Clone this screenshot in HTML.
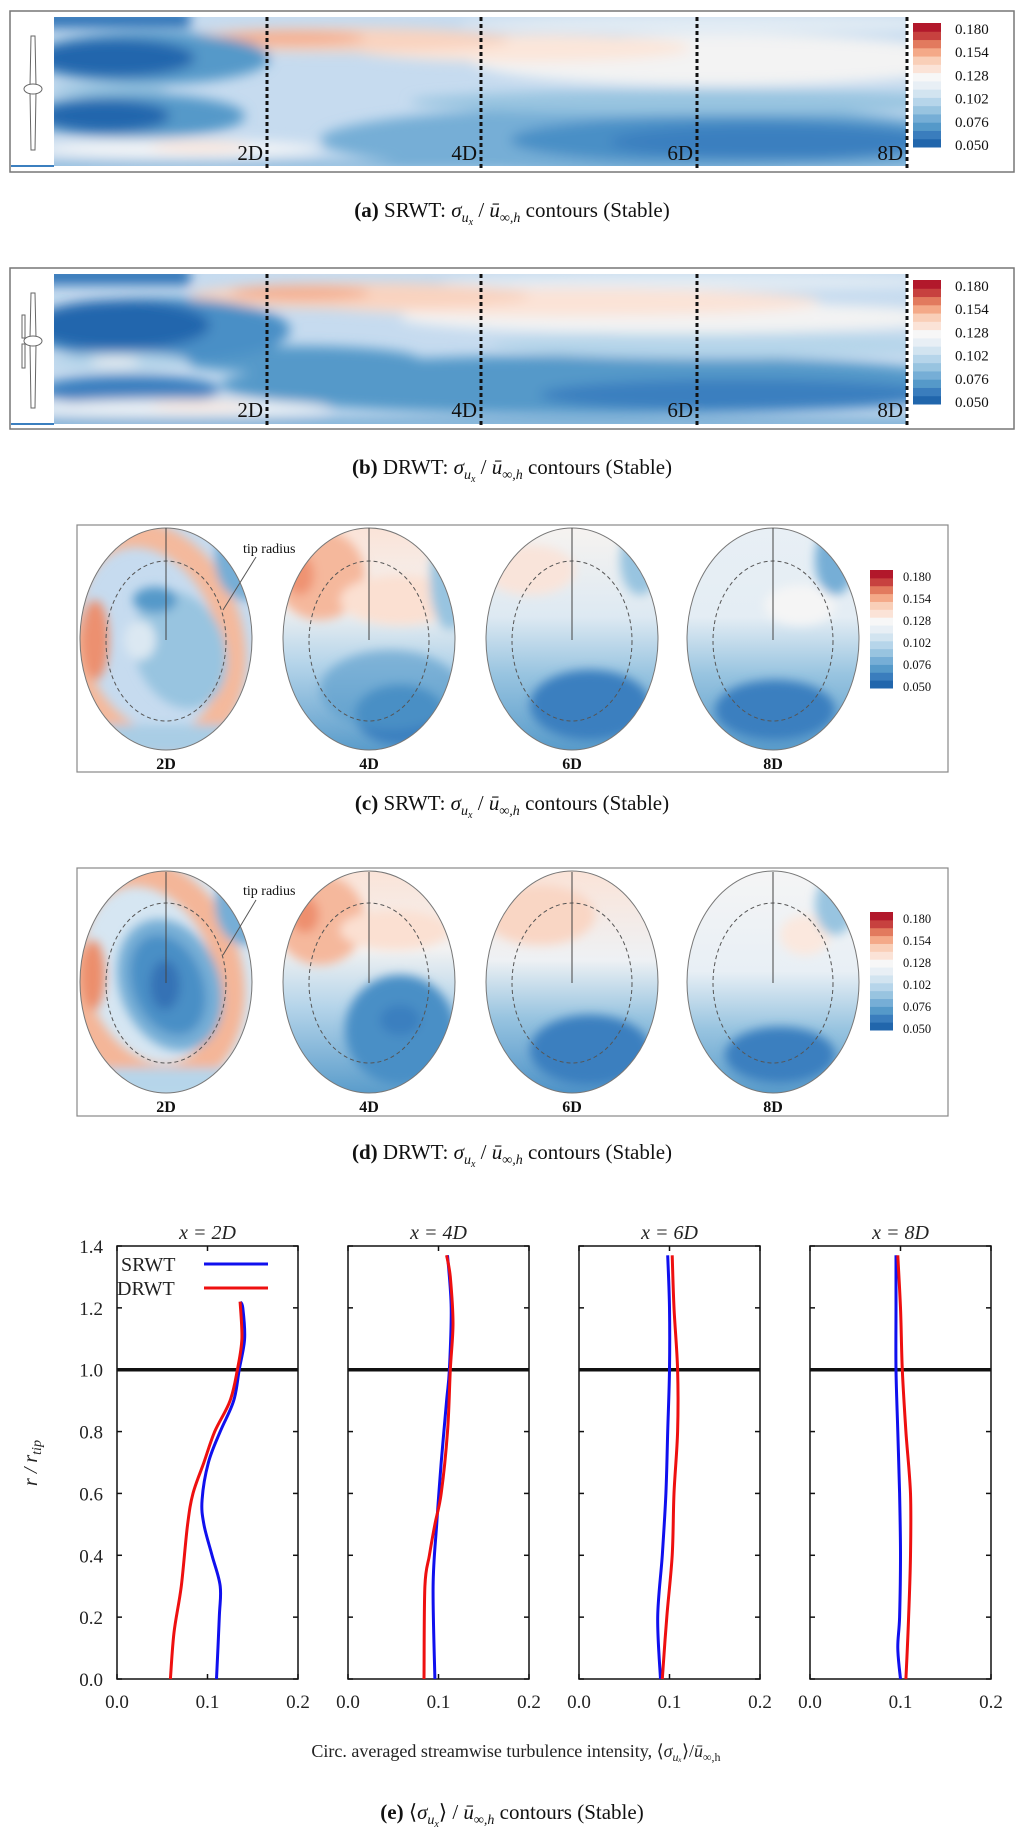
<!DOCTYPE html>
<html><head><meta charset="utf-8"><style>
body{margin:0;background:#fff}
svg{display:block}
.cap{font-family:"Liberation Serif",serif;font-size:21px;fill:#111}
.tk{font-family:"Liberation Serif",serif;font-size:19px;fill:#222}
.cb{font-family:"Liberation Serif",serif;font-size:15px;fill:#111}
.cb2{font-family:"Liberation Serif",serif;font-size:12.5px;fill:#111}
.dl{font-family:"Liberation Serif",serif;font-size:21px;fill:#111}
.el{font-family:"Liberation Serif",serif;font-size:16px;font-weight:bold;fill:#111}
</style></head><body>
<svg id="fig" width="1024" height="1833" viewBox="0 0 1024 1833" xmlns="http://www.w3.org/2000/svg">
<defs>
<filter id="bl" x="-20%" y="-20%" width="140%" height="140%"><feGaussianBlur stdDeviation="6"/></filter>
<filter id="bc" x="-20%" y="-20%" width="140%" height="140%"><feGaussianBlur stdDeviation="5"/></filter>
<clipPath id="clipA"><rect x="54" y="17" width="852" height="149"/></clipPath>
<clipPath id="clipB"><rect x="54" y="274" width="852" height="150"/></clipPath>
<clipPath id="e1"><ellipse cx="166" cy="639" rx="86" ry="111"/></clipPath>
<clipPath id="e2"><ellipse cx="369" cy="639" rx="86" ry="111"/></clipPath>
<clipPath id="e3"><ellipse cx="572" cy="639" rx="86" ry="111"/></clipPath>
<clipPath id="e4"><ellipse cx="773" cy="639" rx="86" ry="111"/></clipPath>
<clipPath id="f1"><ellipse cx="166" cy="982" rx="86" ry="111"/></clipPath>
<clipPath id="f2"><ellipse cx="369" cy="982" rx="86" ry="111"/></clipPath>
<clipPath id="f3"><ellipse cx="572" cy="982" rx="86" ry="111"/></clipPath>
<clipPath id="f4"><ellipse cx="773" cy="982" rx="86" ry="111"/></clipPath>
<linearGradient id="gv4" x1="0" y1="0" x2="0" y2="1"><stop offset="0" stop-color="#fbe3d7"/><stop offset="0.35" stop-color="#f2f2f2"/><stop offset="0.6" stop-color="#b6d5ea"/><stop offset="1" stop-color="#5599c9"/></linearGradient>
<linearGradient id="gv6" x1="0" y1="0" x2="0" y2="1"><stop offset="0" stop-color="#f7f3f0"/><stop offset="0.4" stop-color="#dde9f2"/><stop offset="0.65" stop-color="#98c4e0"/><stop offset="1" stop-color="#5599c9"/></linearGradient>
<linearGradient id="gv8" x1="0" y1="0" x2="0" y2="1"><stop offset="0" stop-color="#e8eff5"/><stop offset="0.4" stop-color="#e4edf4"/><stop offset="0.65" stop-color="#98c4e0"/><stop offset="1" stop-color="#5599c9"/></linearGradient>
<linearGradient id="gd6" x1="0" y1="0" x2="0" y2="1"><stop offset="0" stop-color="#fbe3d7"/><stop offset="0.4" stop-color="#eef1f4"/><stop offset="0.65" stop-color="#98c4e0"/><stop offset="1" stop-color="#4a90c6"/></linearGradient>
<linearGradient id="gd8" x1="0" y1="0" x2="0" y2="1"><stop offset="0" stop-color="#f5f5f5"/><stop offset="0.45" stop-color="#e8eff5"/><stop offset="0.7" stop-color="#98c4e0"/><stop offset="1" stop-color="#5599c9"/></linearGradient>
</defs>

<!-- Panel A -->
<g>
<rect x="10" y="11" width="1004" height="161" fill="#fff" stroke="#777" stroke-width="1.5"/>
<g clip-path="url(#clipA)">
<rect x="54" y="17" width="852" height="149" fill="#c6dbef"/>
<g filter="url(#bl)">
<ellipse cx="650" cy="140" rx="330" ry="34" fill="#76aed6"/>
<ellipse cx="730" cy="140" rx="220" ry="24" fill="#4a8fc6"/>
<ellipse cx="770" cy="142" rx="160" ry="16" fill="#3b7fbf"/>
<ellipse cx="700" cy="102" rx="290" ry="12" fill="#98c4e0"/>
<ellipse cx="720" cy="60" rx="250" ry="26" fill="#f3f3f3"/>
<ellipse cx="720" cy="24" rx="260" ry="9" fill="#e2ecf4"/>
<ellipse cx="520" cy="48" rx="170" ry="14" fill="#fbe6da"/>
<ellipse cx="340" cy="40" rx="170" ry="12" fill="#f9d3bf"/>
<ellipse cx="290" cy="38" rx="75" ry="7" fill="#f4ad8e"/>
<rect x="40" y="10" width="150" height="18" fill="#2f73b7"/>
<ellipse cx="150" cy="58" rx="120" ry="26" fill="#5599c9"/>
<ellipse cx="115" cy="58" rx="80" ry="19" fill="#2466ad"/>
<ellipse cx="110" cy="90" rx="60" ry="6" fill="#98c4e0"/>
<ellipse cx="135" cy="116" rx="110" ry="22" fill="#5599c9"/>
<ellipse cx="105" cy="116" rx="65" ry="16" fill="#2466ad"/>
<ellipse cx="180" cy="149" rx="140" ry="10" fill="#f0f3f6"/>
<ellipse cx="200" cy="147" rx="50" ry="5" fill="#fbe3d7"/>
<rect x="40" y="162" width="880" height="8" fill="#76aed6"/>
</g>
</g>
<g>
<rect x="11" y="17" width="43" height="149" fill="#fff"/>
<path d="M31 36 L35 36 L36 86 L30 86 Z M30 92 L36 92 L35 150 L31 150 Z" fill="#fff" stroke="#666" stroke-width="1"/>
<ellipse cx="33" cy="89" rx="9" ry="5" fill="#fff" stroke="#666" stroke-width="1"/>
<line x1="11" y1="166" x2="54" y2="166" stroke="#3b7fbf" stroke-width="2"/>
</g>
<g stroke="#111" stroke-width="3" stroke-dasharray="4 3">
<line x1="267" y1="17" x2="267" y2="170"/><line x1="481" y1="17" x2="481" y2="170"/><line x1="697" y1="17" x2="697" y2="170"/><line x1="907" y1="17" x2="907" y2="170"/>
</g>
<g class="dl" text-anchor="end">
<text x="263" y="160">2D</text><text x="477" y="160">4D</text><text x="693" y="160">6D</text><text x="903" y="160">8D</text>
</g>
<g id="cbA"></g>
</g>
<text class="cap" x="512" y="217" text-anchor="middle"><tspan font-weight="bold">(a)</tspan> SRWT: <tspan font-style="italic">σ</tspan><tspan font-style="italic" font-size="14" dy="5">u</tspan><tspan font-style="italic" font-size="10" dy="3">x</tspan><tspan dy="-8"> / </tspan><tspan font-style="italic">ū</tspan><tspan font-size="14" dy="5" font-style="italic">∞,h</tspan><tspan dy="-5"> contours (Stable)</tspan></text>

<!-- Panel B -->
<g>
<rect x="10" y="268" width="1004" height="161" fill="#fff" stroke="#777" stroke-width="1.5"/>
<g clip-path="url(#clipB)">
<rect x="54" y="274" width="852" height="150" fill="#c6dbef"/>
<g filter="url(#bl)">
<ellipse cx="600" cy="385" rx="380" ry="30" fill="#5599c9"/>
<ellipse cx="740" cy="395" rx="200" ry="16" fill="#3b7fbf"/>
<ellipse cx="300" cy="360" rx="120" ry="14" fill="#5599c9"/>
<ellipse cx="720" cy="345" rx="230" ry="14" fill="#b6d5ea"/>
<ellipse cx="680" cy="318" rx="280" ry="16" fill="#f3f3f3"/>
<ellipse cx="700" cy="282" rx="260" ry="8" fill="#e2ecf4"/>
<ellipse cx="560" cy="302" rx="260" ry="14" fill="#fbe3d7"/>
<ellipse cx="360" cy="296" rx="170" ry="13" fill="#f9d3bf"/>
<ellipse cx="300" cy="293" rx="70" ry="7" fill="#f4ad8e"/>
<rect x="40" y="267" width="150" height="18" fill="#2f73b7"/>
<ellipse cx="160" cy="330" rx="130" ry="32" fill="#4a8fc6"/>
<ellipse cx="120" cy="325" rx="90" ry="25" fill="#2466ad"/>
<ellipse cx="120" cy="362" rx="70" ry="9" fill="#b6d5ea"/>
<ellipse cx="115" cy="362" rx="25" ry="4" fill="#f0f0f0"/>
<ellipse cx="130" cy="390" rx="90" ry="15" fill="#3b7fbf"/>
<ellipse cx="180" cy="408" rx="150" ry="9" fill="#eaf0f5"/>
<ellipse cx="200" cy="406" rx="50" ry="4" fill="#fbe3d7"/>
<rect x="40" y="420" width="880" height="8" fill="#5599c9"/>
</g>
</g>
<g>
<rect x="11" y="274" width="43" height="150" fill="#fff"/>
<path d="M31 293 L35 293 L36 338 L30 338 Z M30 344 L36 344 L35 408 L31 408 Z" fill="#fff" stroke="#666" stroke-width="1"/>
<path d="M22 315 L25 315 L25 338 L22 338 Z M22 344 L25 344 L25 368 L22 368 Z" fill="#fff" stroke="#666" stroke-width="1"/>
<ellipse cx="33" cy="341" rx="9" ry="5" fill="#fff" stroke="#666" stroke-width="1"/>
<line x1="11" y1="424" x2="54" y2="424" stroke="#3b7fbf" stroke-width="2"/>
</g>
<g stroke="#111" stroke-width="3" stroke-dasharray="4 3">
<line x1="267" y1="274" x2="267" y2="427"/><line x1="481" y1="274" x2="481" y2="427"/><line x1="697" y1="274" x2="697" y2="427"/><line x1="907" y1="274" x2="907" y2="427"/>
</g>
<g class="dl" text-anchor="end">
<text x="263" y="417">2D</text><text x="477" y="417">4D</text><text x="693" y="417">6D</text><text x="903" y="417">8D</text>
</g>
<g id="cbB"></g>
</g>
<text class="cap" x="512" y="474" text-anchor="middle"><tspan font-weight="bold">(b)</tspan> DRWT: <tspan font-style="italic">σ</tspan><tspan font-style="italic" font-size="14" dy="5">u</tspan><tspan font-style="italic" font-size="10" dy="3">x</tspan><tspan dy="-8"> / </tspan><tspan font-style="italic">ū</tspan><tspan font-size="14" dy="5" font-style="italic">∞,h</tspan><tspan dy="-5"> contours (Stable)</tspan></text>

<!-- Panel C -->
<g>
<rect x="77" y="525" width="871" height="247" fill="#fff" stroke="#888" stroke-width="1.2"/>
<g clip-path="url(#e1)">
<rect x="70" y="520" width="200" height="240" fill="#c6dbef"/>
<g filter="url(#bc)">
<ellipse cx="150" cy="640" rx="80" ry="108" fill="none" stroke="#f4b99c" stroke-width="26" transform="rotate(-18 150 640)"/>
<ellipse cx="95" cy="640" rx="14" ry="40" fill="#ec9070"/>
<ellipse cx="180" cy="650" rx="45" ry="60" fill="#98c4e0" transform="rotate(-20 180 650)"/>
<ellipse cx="155" cy="600" rx="22" ry="13" fill="#5599c9"/>
<ellipse cx="140" cy="640" rx="16" ry="20" fill="#dbe8f2"/>
<ellipse cx="245" cy="560" rx="30" ry="40" fill="#76aed6"/>
<rect x="70" y="725" width="200" height="30" fill="#a9cde5"/>
</g>
</g>
<g clip-path="url(#e2)">
<rect x="280" y="525" width="180" height="230" fill="url(#gv4)"/>
<g filter="url(#bc)">
<ellipse cx="320" cy="575" rx="45" ry="45" fill="#f5b89c"/>
<ellipse cx="300" cy="575" rx="14" ry="20" fill="#ef9372"/>
<ellipse cx="400" cy="600" rx="60" ry="25" fill="#fbe0d2"/>
<ellipse cx="450" cy="580" rx="20" ry="50" fill="#98c4e0"/>
<ellipse cx="400" cy="715" rx="45" ry="30" fill="#3b7fbf"/>
<ellipse cx="390" cy="690" rx="70" ry="40" fill="#5599c9" opacity="0.6"/>
</g>
</g>
<g clip-path="url(#e3)">
<rect x="480" y="525" width="180" height="230" fill="url(#gv6)"/>
<g filter="url(#bc)">
<ellipse cx="530" cy="570" rx="45" ry="25" fill="#f9e4da"/>
<ellipse cx="640" cy="560" rx="20" ry="35" fill="#98c4e0"/>
<ellipse cx="590" cy="705" rx="60" ry="35" fill="#3b7fbf"/>
</g>
</g>
<g clip-path="url(#e4)">
<rect x="680" y="525" width="180" height="230" fill="url(#gv8)"/>
<g filter="url(#bc)">
<ellipse cx="800" cy="605" rx="35" ry="20" fill="#f5f5f5"/>
<ellipse cx="835" cy="560" rx="20" ry="35" fill="#76aed6"/>
<ellipse cx="775" cy="710" rx="60" ry="30" fill="#3b7fbf"/>
</g>
</g>
<g fill="none" stroke="#777" stroke-width="1">
<ellipse cx="166" cy="639" rx="86" ry="111"/><ellipse cx="369" cy="639" rx="86" ry="111"/><ellipse cx="572" cy="639" rx="86" ry="111"/><ellipse cx="773" cy="639" rx="86" ry="111"/>
</g>
<g fill="none" stroke="#555" stroke-width="1" stroke-dasharray="4 3">
<ellipse cx="166" cy="641" rx="60" ry="80"/><ellipse cx="369" cy="641" rx="60" ry="80"/><ellipse cx="572" cy="641" rx="60" ry="80"/><ellipse cx="773" cy="641" rx="60" ry="80"/>
</g>
<g stroke="#444" stroke-width="1">
<line x1="166" y1="528" x2="166" y2="640"/><line x1="369" y1="528" x2="369" y2="640"/><line x1="572" y1="528" x2="572" y2="640"/><line x1="773" y1="528" x2="773" y2="640"/>
</g>
<text x="243" y="553" font-family="Liberation Serif,serif" font-size="14" fill="#111">tip radius</text>
<line x1="256" y1="557" x2="223" y2="610" stroke="#555" stroke-width="1"/>
<g class="el" text-anchor="middle"><text x="166" y="769">2D</text><text x="369" y="769">4D</text><text x="572" y="769">6D</text><text x="773" y="769">8D</text></g>
<g id="cbC"></g>
</g>
<text class="cap" x="512" y="810" text-anchor="middle"><tspan font-weight="bold">(c)</tspan> SRWT: <tspan font-style="italic">σ</tspan><tspan font-style="italic" font-size="14" dy="5">u</tspan><tspan font-style="italic" font-size="10" dy="3">x</tspan><tspan dy="-8"> / </tspan><tspan font-style="italic">ū</tspan><tspan font-size="14" dy="5" font-style="italic">∞,h</tspan><tspan dy="-5"> contours (Stable)</tspan></text>

<!-- Panel D -->
<g>
<rect x="77" y="868" width="871" height="248" fill="#fff" stroke="#888" stroke-width="1.2"/>
<g clip-path="url(#f1)">
<rect x="70" y="865" width="200" height="240" fill="#d6e6f2"/>
<g filter="url(#bc)">
<ellipse cx="150" cy="975" rx="78" ry="105" fill="none" stroke="#f4b698" stroke-width="28" transform="rotate(-18 150 975)"/>
<ellipse cx="93" cy="975" rx="12" ry="35" fill="#ec8e6c"/>
<ellipse cx="170" cy="985" rx="50" ry="68" fill="#76aed6" transform="rotate(-22 170 985)"/>
<ellipse cx="168" cy="985" rx="35" ry="52" fill="#4a8fc6" transform="rotate(-22 168 985)"/>
<ellipse cx="165" cy="985" rx="15" ry="25" fill="#3572b5"/>
<ellipse cx="245" cy="905" rx="30" ry="40" fill="#76aed6"/>
<rect x="70" y="1068" width="200" height="30" fill="#b6d5ea"/>
</g>
</g>
<g clip-path="url(#f2)">
<rect x="280" y="868" width="180" height="230" fill="url(#gv4)"/>
<g filter="url(#bc)">
<ellipse cx="320" cy="920" rx="45" ry="45" fill="#f5b89c"/>
<ellipse cx="305" cy="915" rx="14" ry="18" fill="#ee8f6e"/>
<ellipse cx="395" cy="930" rx="55" ry="20" fill="#fbe0d2"/>
<ellipse cx="400" cy="1030" rx="55" ry="55" fill="#4a8fc6"/>
<ellipse cx="400" cy="1020" rx="20" ry="15" fill="#3b7fbf"/>
</g>
</g>
<g clip-path="url(#f3)">
<rect x="480" y="868" width="180" height="230" fill="url(#gd6)"/>
<g filter="url(#bc)">
<ellipse cx="540" cy="915" rx="55" ry="30" fill="#f9d6c4"/>
<ellipse cx="590" cy="1050" rx="60" ry="35" fill="#3b7fbf"/>
</g>
</g>
<g clip-path="url(#f4)">
<rect x="680" y="868" width="180" height="230" fill="url(#gd8)"/>
<g filter="url(#bc)">
<ellipse cx="805" cy="935" rx="25" ry="20" fill="#fbe8de"/>
<ellipse cx="835" cy="905" rx="20" ry="30" fill="#98c4e0"/>
<ellipse cx="780" cy="1055" rx="55" ry="28" fill="#3b7fbf"/>
</g>
</g>
<g fill="none" stroke="#777" stroke-width="1">
<ellipse cx="166" cy="982" rx="86" ry="111"/><ellipse cx="369" cy="982" rx="86" ry="111"/><ellipse cx="572" cy="982" rx="86" ry="111"/><ellipse cx="773" cy="982" rx="86" ry="111"/>
</g>
<g fill="none" stroke="#555" stroke-width="1" stroke-dasharray="4 3">
<ellipse cx="166" cy="983" rx="60" ry="80"/><ellipse cx="369" cy="983" rx="60" ry="80"/><ellipse cx="572" cy="983" rx="60" ry="80"/><ellipse cx="773" cy="983" rx="60" ry="80"/>
</g>
<g stroke="#444" stroke-width="1">
<line x1="166" y1="872" x2="166" y2="983"/><line x1="369" y1="872" x2="369" y2="983"/><line x1="572" y1="872" x2="572" y2="983"/><line x1="773" y1="872" x2="773" y2="983"/>
</g>
<text x="243" y="895" font-family="Liberation Serif,serif" font-size="14" fill="#111">tip radius</text>
<line x1="256" y1="900" x2="223" y2="955" stroke="#555" stroke-width="1"/>
<g class="el" text-anchor="middle"><text x="166" y="1112">2D</text><text x="369" y="1112">4D</text><text x="572" y="1112">6D</text><text x="773" y="1112">8D</text></g>
<g id="cbD"></g>
</g>
<text class="cap" x="512" y="1159" text-anchor="middle"><tspan font-weight="bold">(d)</tspan> DRWT: <tspan font-style="italic">σ</tspan><tspan font-style="italic" font-size="14" dy="5">u</tspan><tspan font-style="italic" font-size="10" dy="3">x</tspan><tspan dy="-8"> / </tspan><tspan font-style="italic">ū</tspan><tspan font-size="14" dy="5" font-style="italic">∞,h</tspan><tspan dy="-5"> contours (Stable)</tspan></text>

<!-- Panel E -->
<g id="chartE"></g>
<text x="37" y="1463" transform="rotate(-90 37 1463)" text-anchor="middle" font-family="Liberation Serif,serif" font-style="italic" font-size="20" fill="#222">r / r<tspan font-size="14" dy="4">tip</tspan></text>
<text x="516" y="1757" text-anchor="middle" font-family="Liberation Serif,serif" font-size="18" fill="#222">Circ. averaged streamwise turbulence intensity, ⟨<tspan font-style="italic">σ</tspan><tspan font-style="italic" font-size="12" dy="4">uₓ</tspan><tspan dy="-4">⟩/</tspan><tspan font-style="italic">ū</tspan><tspan font-size="12" dy="4">∞,h</tspan></text>
<text class="cap" x="512" y="1819" text-anchor="middle"><tspan font-weight="bold">(e)</tspan> ⟨<tspan font-style="italic">σ</tspan><tspan font-style="italic" font-size="14" dy="5">u</tspan><tspan font-style="italic" font-size="10" dy="3">x</tspan><tspan dy="-8">⟩ / </tspan><tspan font-style="italic">ū</tspan><tspan font-size="14" dy="5" font-style="italic">∞,h</tspan><tspan dy="-5"> contours (Stable)</tspan></text>
</svg>
<script>
// Colorbar data
const cbLevels = ["#2166ac","#3a7dbd","#5599c9","#76aed6","#98c4e0","#b6d5ea","#d2e4f0","#e8eff5","#f7f7f7","#fbe3d7","#f9cfb8","#f4a988","#e27a5e","#c7413f","#b2182b"];
const cbTicks = ["0.050","0.076","0.102","0.128","0.154","0.180"];

// Profile chart data (x = 2D, 4D, 6D, 8D)
const stations = ["x = 2D","x = 4D","x = 6D","x = 8D"];
const xTicks = ["0.0","0.1","0.2"];
const yTicks = ["0.0","0.2","0.4","0.6","0.8","1.0","1.2","1.4"];
const srwtR2 = [0,0.2,0.3,0.4,0.5,0.58,0.7,0.8,0.9,1.0,1.1,1.2,1.22];
const srwtV2 = [0.110,0.113,0.114,0.105,0.096,0.094,0.101,0.114,0.129,0.135,0.141,0.139,0.136];
const drwtR2 = [0,0.15,0.3,0.5,0.6,0.7,0.8,0.9,1.0,1.1,1.22];
const drwtV2 = [0.059,0.063,0.071,0.078,0.084,0.096,0.108,0.125,0.133,0.138,0.136];
const srwtR4 = [0,0.3,0.5,0.7,0.9,1.0,1.2,1.37];
const srwtV4 = [0.096,0.094,0.098,0.103,0.109,0.112,0.114,0.110];
const drwtR4 = [0,0.3,0.4,0.5,0.6,0.8,1.0,1.15,1.3,1.37];
const drwtV4 = [0.084,0.085,0.090,0.096,0.103,0.110,0.113,0.116,0.113,0.109];
const srwtR6 = [0,0.2,0.4,0.6,0.8,1.0,1.2,1.37];
const srwtV6 = [0.090,0.087,0.092,0.096,0.098,0.100,0.100,0.098];
const drwtR6 = [0,0.2,0.4,0.6,0.8,1.0,1.2,1.37];
const drwtV6 = [0.092,0.097,0.103,0.105,0.109,0.109,0.105,0.103];
const srwtR8 = [0,0.1,0.2,0.4,0.6,0.8,1.0,1.2,1.37];
const srwtV8 = [0.100,0.097,0.099,0.100,0.099,0.097,0.095,0.095,0.095];
const drwtR8 = [0,0.2,0.4,0.6,0.8,1.0,1.2,1.37];
const drwtV8 = [0.106,0.109,0.111,0.111,0.106,0.102,0.100,0.097];

const NS = "http://www.w3.org/2000/svg";
function mk(tag, attrs, parent){const e=document.createElementNS(NS,tag);for(const k in attrs)e.setAttribute(k,attrs[k]);parent.appendChild(e);return e;}

function colorbar(id, x, y0, y1, w, labelX, cls){
  const g=document.getElementById(id);
  const n=cbLevels.length, h=(y1-y0)/n;
  cbLevels.forEach((c,i)=>{
    const r=mk("rect",{x:x,y:y1-(i+1)*h,width:w,height:h+0.5,fill:c},g);
    
    
  });
  cbTicks.forEach((t,i)=>{
    const yy=y1-(i/(cbTicks.length-1))*(y1-y0-8)-2;
    const tx=mk("text",{x:labelX,y:yy+5,"class":cls},g);
    tx.textContent=t;
    
    
  });
}
colorbar("cbA",913,23,147,28,955,"cb");
colorbar("cbB",913,280,404,28,955,"cb");
colorbar("cbC",870,570,688,23,903,"cb2");
colorbar("cbD",870,912,1030,23,903,"cb2");

const frameLeft=[117,348,579,810], frameW=181, yTop=1246, yBot=1679;
const data=[[srwtR2,srwtV2,drwtR2,drwtV2],[srwtR4,srwtV4,drwtR4,drwtV4],[srwtR6,srwtV6,drwtR6,drwtV6],[srwtR8,srwtV8,drwtR8,drwtV8]];
const ch=document.getElementById("chartE");
function yS(r){return yBot-(r/1.4)*(yBot-yTop);}
function smoothPath(pts){
  let d="M"+pts[0][0].toFixed(1)+" "+pts[0][1].toFixed(1);
  for(let i=0;i<pts.length-1;i++){
    const p0=pts[i-1]||pts[i],p1=pts[i],p2=pts[i+1],p3=pts[i+2]||p2;
    const c1=[p1[0]+(p2[0]-p0[0])/6,p1[1]+(p2[1]-p0[1])/6];
    const c2=[p2[0]-(p3[0]-p1[0])/6,p2[1]-(p3[1]-p1[1])/6];
    d+=` C${c1[0].toFixed(1)} ${c1[1].toFixed(1)} ${c2[0].toFixed(1)} ${c2[1].toFixed(1)} ${p2[0].toFixed(1)} ${p2[1].toFixed(1)}`;
  }
  return d;
}
stations.forEach((s,k)=>{
  const L=frameLeft[k];
  const xS=v=>L+(v/0.2)*frameW;
  const g=mk("g",{},ch);
  
  
  const fr=mk("rect",{x:L,y:yTop,width:frameW,height:yBot-yTop,fill:"#fff",stroke:"#111","stroke-width":1.5},g);
  
  
  const t=mk("text",{x:L+frameW/2,y:yTop-7,"text-anchor":"middle","font-family":"Liberation Serif,serif","font-style":"italic","font-size":20,fill:"#222"},g);
  t.textContent=s;
  
  
  yTicks.forEach((yt,i)=>{
    const yy=yS(parseFloat(yt));
    mk("line",{x1:L,y1:yy,x2:L+5,y2:yy,stroke:"#111","stroke-width":1.5},g);
    mk("line",{x1:L+frameW-5,y1:yy,x2:L+frameW,y2:yy,stroke:"#111","stroke-width":1.5},g);
    if(k===0){
      const tl=mk("text",{x:L-14,y:yy+7,"text-anchor":"end","class":"tk"},g);
      tl.textContent=yt;
      
      
    }
  });
  xTicks.forEach(xt=>{
    const xx=xS(parseFloat(xt));
    mk("line",{x1:xx,y1:yBot,x2:xx,y2:yBot-5,stroke:"#111","stroke-width":1.5},g);
    mk("line",{x1:xx,y1:yTop,x2:xx,y2:yTop+5,stroke:"#111","stroke-width":1.5},g);
    const tl=mk("text",{x:xx,y:yBot+29,"text-anchor":"middle","class":"tk"},g);
    tl.textContent=xt;
    
    
  });
  const ref=mk("line",{x1:L,y1:yS(1),x2:L+frameW,y2:yS(1),stroke:"#111","stroke-width":3.5},g);
  
  
  const [sr,sv,dr,dv]=data[k];
  const ps=mk("path",{d:smoothPath(sr.map((r,i)=>[xS(sv[i]),yS(r)])),fill:"none",stroke:"#1010ee","stroke-width":3},g);
  
  
  const pd=mk("path",{d:smoothPath(dr.map((r,i)=>[xS(dv[i]),yS(r)])),fill:"none",stroke:"#ee1010","stroke-width":3},g);
  
  
});
// legend
const lg=mk("g",{},ch);


const l1=mk("text",{x:121,y:1271,"font-family":"Liberation Serif,serif","font-size":20,fill:"#222"},lg); l1.textContent="SRWT";


mk("line",{x1:204,y1:1264,x2:268,y2:1264,stroke:"#1010ee","stroke-width":3},lg);
const l2=mk("text",{x:117,y:1295,"font-family":"Liberation Serif,serif","font-size":20,fill:"#222"},lg); l2.textContent="DRWT";


mk("line",{x1:204,y1:1288,x2:268,y2:1288,stroke:"#ee1010","stroke-width":3},lg);
</script>
</body></html>
